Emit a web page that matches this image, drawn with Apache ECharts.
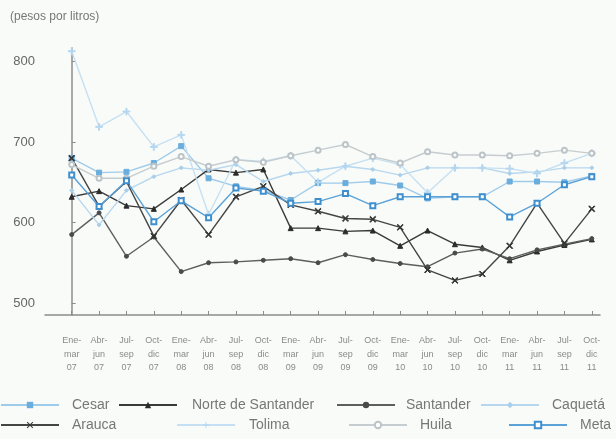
<!DOCTYPE html>
<html><head><meta charset="utf-8">
<script src="https://cdn.jsdelivr.net/npm/echarts@6/dist/echarts.min.js"></script>
<style>html,body{margin:0;padding:0;background:#f9fbf8;}#c{width:616px;height:439px;}</style>
</head><body><div id="c"></div>
<script>
const categories = ["Ene-\nmar\n07","Abr-\njun\n07","Jul-\nsep\n07","Oct-\ndic\n07","Ene-\nmar\n08","Abr-\njun\n08","Jul-\nsep\n08","Oct-\ndic\n08","Ene-\nmar\n09","Abr-\njun\n09","Jul-\nsep\n09","Oct-\ndic\n09","Ene-\nmar\n10","Abr-\njun\n10","Jul-\nsep\n10","Oct-\ndic\n10","Ene-\nmar\n11","Abr-\njun\n11","Jul-\nsep\n11","Oct-\ndic\n11"];
const yTicks = [500, 600, 700, 800];
const cesar = [680, 662, 663, 674, 695, 655, 645, 640, 628, 649, 649, 651, 646, 630, 632, 632, 651, 651, 650, 658];
const norteSantander = [632, 639, 621, 617, 641, 666, 662, 666, 593, 593, 589, 590, 571, 590, 573, 569, 553, 564, 572, 579];
const santander = [585, 612, 558, 582, 539, 550, 551, 553, 555, 550, 560, 554, 549, 545, 562, 567, 555, 566, 573, 580];
const caqueta = [640, 597, 640, 657, 668, 665, 672, 651, 661, 665, 670, 666, 659, 668, 668, 668, 661, 663, 668, 668];
const arauca = [680, 620, 651, 583, 628, 585, 632, 645, 622, 614, 605, 604, 594, 541, 528, 536, 571, 624, 574, 617];
const tolima = [813, 719, 738, 694, 709, 610, 678, 676, 683, 650, 670, 680, 672, 637, 668, 668, 667, 661, 674, 686];
const huila = [672, 655, 655, 670, 682, 670, 678, 675, 683, 690, 697, 682, 674, 688, 684, 684, 683, 686, 690, 686];
const meta = [659, 620, 652, 601, 627, 606, 643, 639, 624, 626, 636, 621, 632, 632, 632, 632, 607, 624, 647, 657];

const crossPath = 'path://M1,0L5,4L9,0L10,1L6,5L10,9L9,10L5,6L1,10L0,9L4,5L0,1Z';
const plusPath = 'path://M4.3,0H5.7V4.3H10V5.7H5.7V10H4.3V5.7H0V4.3H4.3Z';

const defs = [
  {name:'Cesar', data:cesar, color:'#6aaede', line:'#9fcbea', symbol:'rect', size:5},
  {name:'Norte de Santander', data:norteSantander, color:'#2b2b2b', line:'#3a3a3a', symbol:'triangle', size:5},
  {name:'Santander', data:santander, color:'#4a4a4a', line:'#5e5e5e', symbol:'circle', size:4},
  {name:'Caquetá', data:caqueta, color:'#a9cfea', line:'#b7d7ee', symbol:'diamond', size:4},
  {name:'Arauca', data:arauca, color:'#333333', line:'#454545', symbol:crossPath, size:6},
  {name:'Tolima', data:tolima, color:'#b5d7ef', line:'#c5e0f3', symbol:plusPath, size:7},
  {name:'Huila', data:huila, color:'#bcc4c8', line:'#c6cdd1', symbol:'emptyCircle', size:5},
  {name:'Meta', data:meta, color:'#3f8fcf', line:'#5aa2d8', symbol:'emptyRect', size:5}
];

const legendPos = [
  {left:0, top:398, gap:8}, {left:118, top:398, gap:10}, {left:336, top:398, gap:6}, {left:480, top:398, gap:8},
  {left:0, top:418, gap:8}, {left:176, top:418, gap:9}, {left:348, top:418, gap:8}, {left:508, top:418, gap:8}
];

const chart = echarts.init(document.getElementById('c'));
chart.setOption({
  backgroundColor:'#f9fbf8',
  animation:false,
  title:{text:'(pesos por litros)', left:5, top:6, textStyle:{fontFamily:'Liberation Sans', fontSize:12, fontWeight:'normal', color:'#777'}},
  grid:{left:45, right:16, top:48, bottom:124},
  xAxis:{type:'value', min:-0.976, max:19.3,
    axisLine:{lineStyle:{color:'#8c8c8c', width:1.5}},
    axisTick:{inside:true, length:4, customValues:categories.map((c,i)=>i), lineStyle:{color:'#8c8c8c'}},
    axisLabel:{customValues:categories.map((c,i)=>i), formatter:v=>categories[Math.round(v)], fontFamily:'Liberation Sans', fontSize:9, lineHeight:13.5, color:'#8a8a8a', margin:19},
    splitLine:{show:false}},
  yAxis:{type:'value', min:485, max:817,
    axisLine:{show:true, lineStyle:{color:'#8c8c8c', width:1.5}},
    axisTick:{show:true, inside:true, length:4, customValues:yTicks, lineStyle:{color:'#8c8c8c'}},
    axisLabel:{customValues:yTicks, fontFamily:'Liberation Sans', fontSize:13, color:'#666', margin:10},
    splitLine:{show:false}},
  legend: defs.map((d,k)=>({data:[d.name], left:legendPos[k].left, top:legendPos[k].top, itemWidth:58, itemHeight:8, padding:0,
    textStyle:{fontFamily:'Liberation Sans', fontSize:14, color:'#777', padding:[0,0,0,legendPos[k].gap]}})),
  series: defs.map(d=>({name:d.name, type:'line', data:d.data.map((v,i)=>[i,v]), symbol:d.symbol, symbolSize:d.size,
    itemStyle:{color:d.color, borderColor:d.color}, lineStyle:{color:d.line, width:1.4}, showSymbol:true}))
});
</script></body></html>
